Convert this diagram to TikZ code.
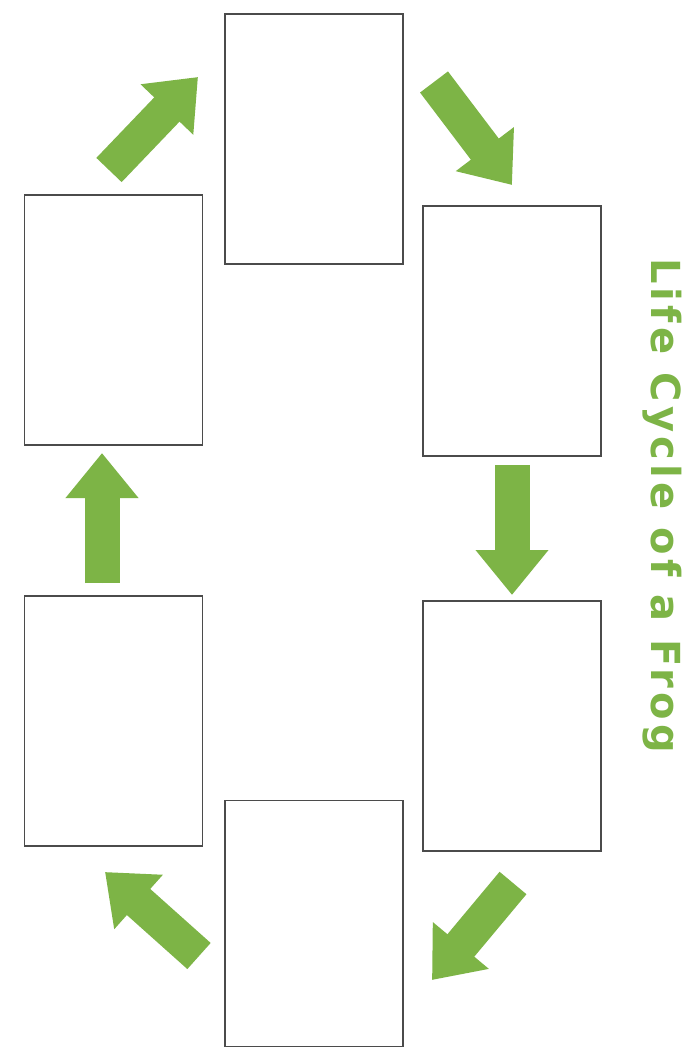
\documentclass[tikz,border=0pt]{standalone}
\usepackage{fontspec}
\usepackage{xcolor}
\usepackage{tikz}
\usetikzlibrary{arrows.meta,positioning}

\newfontfamily\titlefont[LetterSpace=10.5]{DejaVu Sans}
\definecolor{frog}{RGB}{125,180,70}
\definecolor{boxline}{RGB}{75,75,75}

\begin{document}
\begin{tikzpicture}[
  x=1pt, y=-1pt,
  stage/.style={rectangle, draw=boxline, line width=1.8pt, fill=white, minimum width=178pt, minimum height=250pt, inner sep=0pt},
  cyclearrow/.style={draw=frog, line width=35pt, -{Triangle[width=70pt,length=45pt]}, fill=frog},
  title/.style={font=\titlefont\bfseries\fontsize{40}{43}\selectfont, text=frog, inner sep=0pt, rotate=-90, anchor=base west}
]
  \useasboundingbox[fill=white] (0,0) rectangle (692,1048);

  % stages of the cycle (empty boxes)
  \node[stage] (s1) at (314, 139) {};
  \node[stage] (s2) at (512, 331) {};
  \node[stage] (s3) at (512, 726) {};
  \node[stage, minimum height=246pt] (s4) at (314, 923.5) {};
  \node[stage] (s5) at (113.5, 721) {};
  \node[stage] (s6) at (113.5, 320) {};

  % arrow ends
  \coordinate (a1) at (434, 82);   \coordinate (b1) at (512, 185);
  \coordinate (a2) at (512, 465);  \coordinate (b2) at (512, 595);
  \coordinate (a3) at (513, 883);  \coordinate (b3) at (432, 980);
  \coordinate (a4) at (199, 956);  \coordinate (b4) at (105, 872);
  \coordinate (a5) at (102, 583);  \coordinate (b5) at (102, 453);
  \coordinate (a6) at (109, 170);  \coordinate (b6) at (198, 77);

  % green arrows
  \draw[cyclearrow] (a1) -- (b1);
  \draw[cyclearrow] (a2) -- (b2);
  \draw[cyclearrow] (a3) -- (b3);
  \draw[cyclearrow] (a4) -- (b4);
  \draw[cyclearrow] (a5) -- (b5);
  \draw[cyclearrow] (a6) -- (b6);

  % title
  \node[title] (lifecycle) at (651, 258) {Life Cycle of a Frog};
\end{tikzpicture}
\end{document}
